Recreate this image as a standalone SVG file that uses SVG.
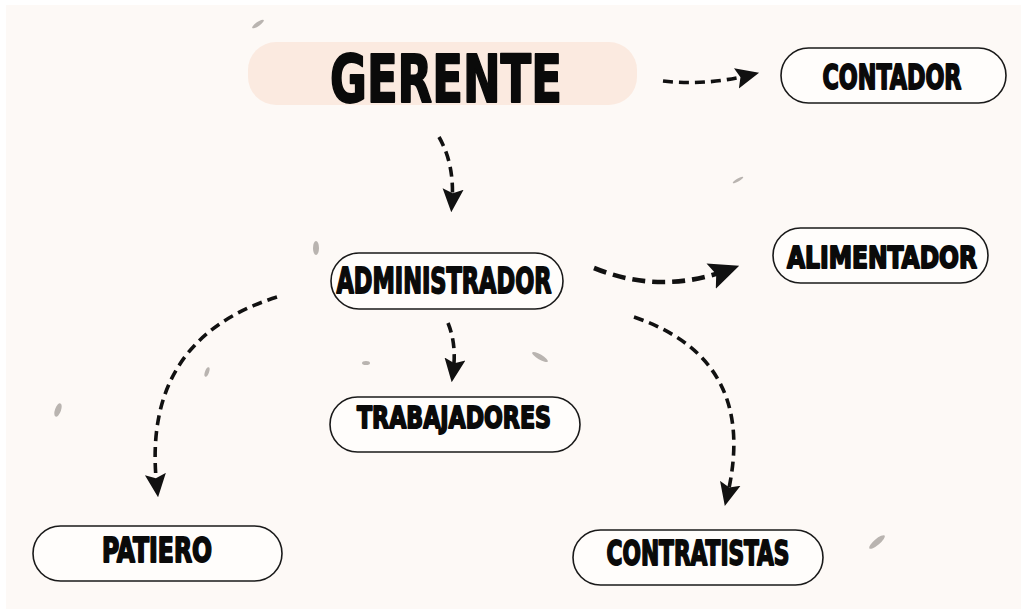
<svg xmlns="http://www.w3.org/2000/svg" width="1021" height="609" viewBox="0 0 1021 609">
<style>
.bg{fill:#fdf9f6}
.pill{fill:#fffdfb;stroke:#1a1a1a;stroke-width:1.6}
.lbl{font-family:"DejaVu Sans Condensed","DejaVu Sans",sans-serif;font-weight:bold;fill:#0a0a0a;stroke:#0a0a0a;stroke-width:1.8;stroke-linejoin:round;text-anchor:middle}
.con{fill:none;stroke:#111;stroke-width:3.6;stroke-dasharray:10 6;marker-end:url(#ah)}
.thick{stroke-width:4.6;stroke-dasharray:13 7}
.speck{fill:#b9b4b0}
</style>
<defs>
<marker id="ah" viewBox="0 0 10 10" refX="6" refY="5" markerWidth="6.5" markerHeight="6.5" orient="auto" markerUnits="strokeWidth">
<path d="M0,0.5 L10,5 L0,9.5 L1.8,5 Z" fill="#111"/>
</marker>
</defs>
<rect x="0" y="0" width="1021" height="609" fill="#ffffff"/>
<rect class="bg" x="6" y="5" width="1015" height="604"/>
<g id="specks">
<ellipse class="speck" cx="258" cy="24" rx="7" ry="2" transform="rotate(-35 258 24)"/>
<ellipse class="speck" cx="316" cy="248" rx="3" ry="7"/>
<ellipse class="speck" cx="58" cy="410" rx="3" ry="7" transform="rotate(20 58 410)"/>
<ellipse class="speck" cx="540" cy="357" rx="9" ry="2.5" transform="rotate(30 540 357)"/>
<ellipse class="speck" cx="877" cy="542" rx="10" ry="3" transform="rotate(-40 877 542)"/>
<ellipse class="speck" cx="207" cy="372" rx="2" ry="5" transform="rotate(20 207 372)"/>
<ellipse class="speck" cx="738" cy="180" rx="6" ry="1.5" transform="rotate(-30 738 180)"/>
<ellipse class="speck" cx="366" cy="363" rx="4" ry="2"/>
</g>
<g id="connectors">
<path id="c-gerente-contador" class="con" d="M663,81 Q705,86 750,75"/>
<path id="c-gerente-admin" class="con" d="M439,137 Q455,165 452,203"/>
<path id="c-admin-alimentador" class="con thick" d="M594,268 Q660,295 728,270"/>
<path id="c-admin-trabajadores" class="con" d="M448,323 Q457,345 453,373"/>
<path id="c-admin-patiero" class="con" d="M277,297 Q140,340 157,488"/>
<path id="c-admin-contratistas" class="con" d="M634,317 Q760,360 727,497"/>
</g>
<g id="gerente">
<rect x="248" y="42" width="389" height="63" rx="28" fill="#fbeae0"/>
<text class="lbl" x="446" y="102" font-size="66" textLength="232" lengthAdjust="spacingAndGlyphs">GERENTE</text>
</g>
<g id="contador">
<rect class="pill" x="781" y="48" width="225" height="55" rx="27.5"/>
<text class="lbl" x="892" y="89" font-size="34" textLength="139" lengthAdjust="spacingAndGlyphs">CONTADOR</text>
</g>
<g id="administrador">
<rect class="pill" x="331" y="253" width="232" height="56" rx="28"/>
<text class="lbl" x="444" y="293" font-size="36" textLength="215" lengthAdjust="spacingAndGlyphs">ADMINISTRADOR</text>
</g>
<g id="alimentador">
<rect class="pill" x="773" y="228" width="215" height="55" rx="27.5"/>
<text class="lbl" x="882" y="268" font-size="30" textLength="190" lengthAdjust="spacingAndGlyphs">ALIMENTADOR</text>
</g>
<g id="trabajadores">
<rect class="pill" x="330" y="397" width="250" height="55" rx="27.5"/>
<text class="lbl" x="454" y="428" font-size="31" textLength="194" lengthAdjust="spacingAndGlyphs">TRABAJADORES</text>
</g>
<g id="patiero">
<rect class="pill" x="33" y="526" width="249" height="55" rx="27.5"/>
<text class="lbl" x="157" y="562" font-size="34" textLength="110" lengthAdjust="spacingAndGlyphs">PATIERO</text>
</g>
<g id="contratistas">
<rect class="pill" x="573" y="530" width="250" height="55" rx="27.5"/>
<text class="lbl" x="698" y="565" font-size="34" textLength="183" lengthAdjust="spacingAndGlyphs">CONTRATISTAS</text>
</g>
</svg>
